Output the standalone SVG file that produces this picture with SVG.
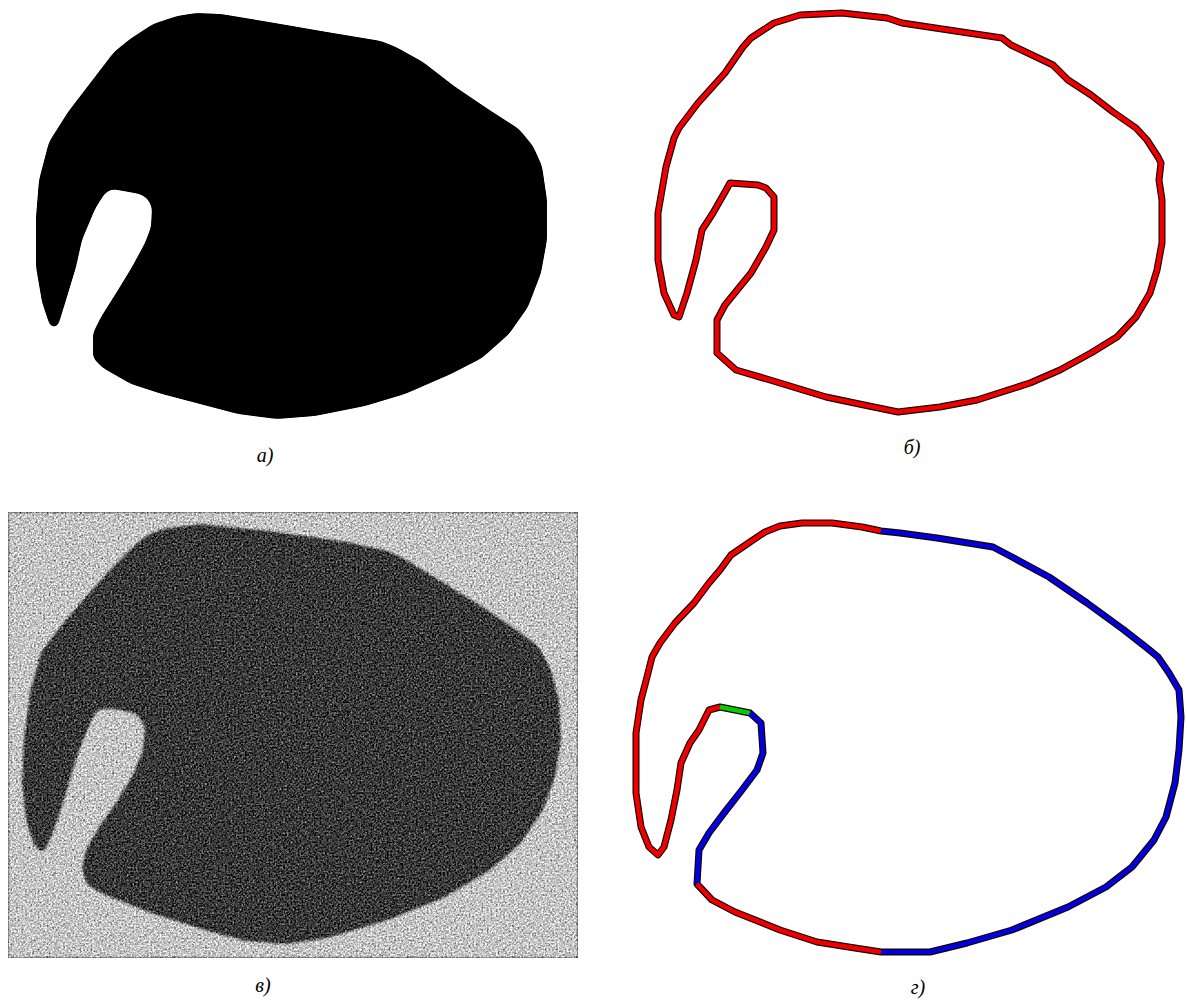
<svg xmlns="http://www.w3.org/2000/svg" width="1187" height="1001" viewBox="0 0 1187 1001">
  <style>
    .cap { font-family: "Liberation Serif", "DejaVu Serif", serif; font-style: italic; font-size: 20px; fill: #000; text-anchor: middle; }
    .edge { fill: none; stroke: #1a0000; stroke-width: 7; stroke-linejoin: round; stroke-linecap: round; }
    .line { fill: none; stroke-width: 4.6; stroke-linejoin: round; stroke-linecap: butt; }
    .red { stroke: #ee0000; }
    .blue { stroke: #0000dd; }
    .green { stroke: #00d000; }
  </style>
  <defs>
    <!-- rounds off polygon corners: blur, then threshold the alpha -->
    <filter id="smooth" x="-5%" y="-5%" width="110%" height="110%" color-interpolation-filters="sRGB">
      <feGaussianBlur in="SourceGraphic" stdDeviation="3"/>
      <feComponentTransfer>
        <feFuncA type="linear" slope="10" intercept="-4.5"/>
      </feComponentTransfer>
    </filter>
    <!-- fine grey grain laid over the source picture -->
    <filter id="grain" filterUnits="userSpaceOnUse" x="8" y="512" width="570" height="446" color-interpolation-filters="sRGB">
      <feGaussianBlur in="SourceGraphic" stdDeviation="1" result="soft"/>
      <feTurbulence type="fractalNoise" baseFrequency="0.55" numOctaves="2" seed="7" result="n"/>
      <feColorMatrix in="n" type="matrix" values="0.33 0.33 0.33 0 0  0.33 0.33 0.33 0 0  0.33 0.33 0.33 0 0  0 0 0 0 1" result="g"/>
      <feComposite in="soft" in2="g" operator="arithmetic" k1="0" k2="1" k3="1.9" k4="-0.95"/>
    </filter>
  </defs>

  <rect width="1187" height="1001" fill="#fff"/>

  <!-- а) filled object -->
  <g id="panel-a">
    <path fill="#000" filter="url(#smooth)" d="M196,13 L221,14 L269,22 L327,32 L381,41 L396,47 L423,62 L454,86 L488,109 L519,129 L533,146 L542,166 L547,200 L547,240 L541,273 L528,307 L509,334 L482,358 L451,374 L405,394 L365,406 L315,416 L277,419 L238,414 L200,404 L162,394 L131,384 L103,368 L93,358 L93,333 L101,317 L118,290 L132,267 L145,243 L151,227 L152,207 L147,198 L140,194 L112,189 L105,193 L95,209 L82,240 L76,267 L66,300 L58,326 L54,328 L50,326 L42,302 L36,267 L36,217 L39,180 L49,142 L68,112 L91,82 L114,52 L130,39 L153,24 L177,16 Z"/>
    <text class="cap" x="265" y="462">а)</text>
  </g>

  <!-- б) extracted boundary -->
  <g id="panel-b">
    <path id="contour-b" class="edge" d="M800,15 L842,13 L887,18 L902,23 L962,32 L1002,38 L1011,45 L1053,65 L1068,80 L1091,95 L1113,112 L1136,128 L1147,140 L1158,157 L1161,163 L1159,180 L1162,200 L1162,243 L1157,270 L1150,293 L1136,317 L1117,337 L1091,353 L1060,370 L1030,383 L977,400 L940,407 L898,412 L864,405 L826,397 L770,380 L736,370 L717,353 L717,320 L725,305 L751,273 L766,247 L774,230 L774,197 L766,188 L758,185 L730,183 L725,192 L713,213 L702,230 L696,260 L687,293 L679,317 L674,315 L664,293 L658,260 L658,213 L666,167 L674,138 L679,128 L698,103 L725,73 L743,47 L751,38 L774,23 Z"/>
    <path class="line red" d="M800,15 L842,13 L887,18 L902,23 L962,32 L1002,38 L1011,45 L1053,65 L1068,80 L1091,95 L1113,112 L1136,128 L1147,140 L1158,157 L1161,163 L1159,180 L1162,200 L1162,243 L1157,270 L1150,293 L1136,317 L1117,337 L1091,353 L1060,370 L1030,383 L977,400 L940,407 L898,412 L864,405 L826,397 L770,380 L736,370 L717,353 L717,320 L725,305 L751,273 L766,247 L774,230 L774,197 L766,188 L758,185 L730,183 L725,192 L713,213 L702,230 L696,260 L687,293 L679,317 L674,315 L664,293 L658,260 L658,213 L666,167 L674,138 L679,128 L698,103 L725,73 L743,47 L751,38 L774,23 Z"/>
    <text class="cap" x="912" y="454">б)</text>
  </g>

  <!-- в) object with additive noise -->
  <g id="panel-c">
    <g filter="url(#grain)">
      <rect x="8" y="512" width="570" height="446" fill="#c6c6c6"/>
      <path fill="#3a3a3a" filter="url(#smooth)" d="M162,529 L200,524 L269,531 L346,542 L388,551 L408,561 L442,582 L481,606 L515,629 L538,646 L551,670 L559,700 L561,740 L555,777 L543,810 L520,844 L489,871 L443,898 L385,921 L327,938 L288,944 L246,941 L208,931 L154,914 L103,894 L86,884 L82,867 L86,850 L99,827 L118,800 L134,773 L143,750 L145,727 L137,714 L115,709 L98,709 L91,721 L78,753 L66,793 L55,827 L45,851 L40,852 L34,845 L26,820 L22,783 L24,740 L30,693 L41,652 L61,626 L84,599 L111,569 L134,546 L146,536 Z"/>
    </g>
    <text class="cap" x="263" y="992">в)</text>
  </g>

  <!-- г) boundary split into labelled segments -->
  <g id="panel-d">
    <path class="edge" d="M881,531 L862,527 L832,523 L802,523 L780,526 L765,532 L750,542 L731,555 L720,570 L709,583 L694,603 L675,623 L660,643 L652,657 L647,677 L641,700 L636,733 L636,793 L641,827 L649,847 L658,855 L664,847 L671,820 L677,790 L681,763 L690,743 L699,730 L709,710 L720,707 L750,713 L761,723 L763,753 L757,770 L742,790 L724,813 L709,833 L699,850 L697,884 L712,900 L735,912 L780,930 L817,942 L855,948 L881,952 L930,952 L967,943 L1012,930 L1068,907 L1106,887 L1132,867 L1154,840 L1166,817 L1175,783 L1179,750 L1181,717 L1179,690 L1169,673 L1158,657 L1147,648 L1124,630 L1087,603 L1049,577 L1012,557 L993,547 L937,538 L900,533 Z"/>
    <g id="segments">
      <path class="line red" d="M881,531 L862,527 L832,523 L802,523 L780,526 L765,532 L750,542 L731,555 L720,570 L709,583 L694,603 L675,623 L660,643 L652,657 L647,677 L641,700 L636,733 L636,793 L641,827 L649,847 L658,855 L664,847 L671,820 L677,790 L681,763 L690,743 L699,730 L709,710 L720,707"/>
      <path class="line green" d="M720,707 L750,713"/>
      <path class="line blue" d="M750,713 L761,723 L763,753 L757,770 L742,790 L724,813 L709,833 L699,850 L697,884"/>
      <path class="line red" d="M697,884 L712,900 L735,912 L780,930 L817,942 L855,948 L881,952"/>
      <path class="line blue" d="M881,952 L930,952 L967,943 L1012,930 L1068,907 L1106,887 L1132,867 L1154,840 L1166,817 L1175,783 L1179,750 L1181,717 L1179,690 L1169,673 L1158,657 L1147,648 L1124,630 L1087,603 L1049,577 L1012,557 L993,547 L937,538 L900,533 L881,531"/>
    </g>
    <text class="cap" x="918" y="994">г)</text>
  </g>
</svg>
